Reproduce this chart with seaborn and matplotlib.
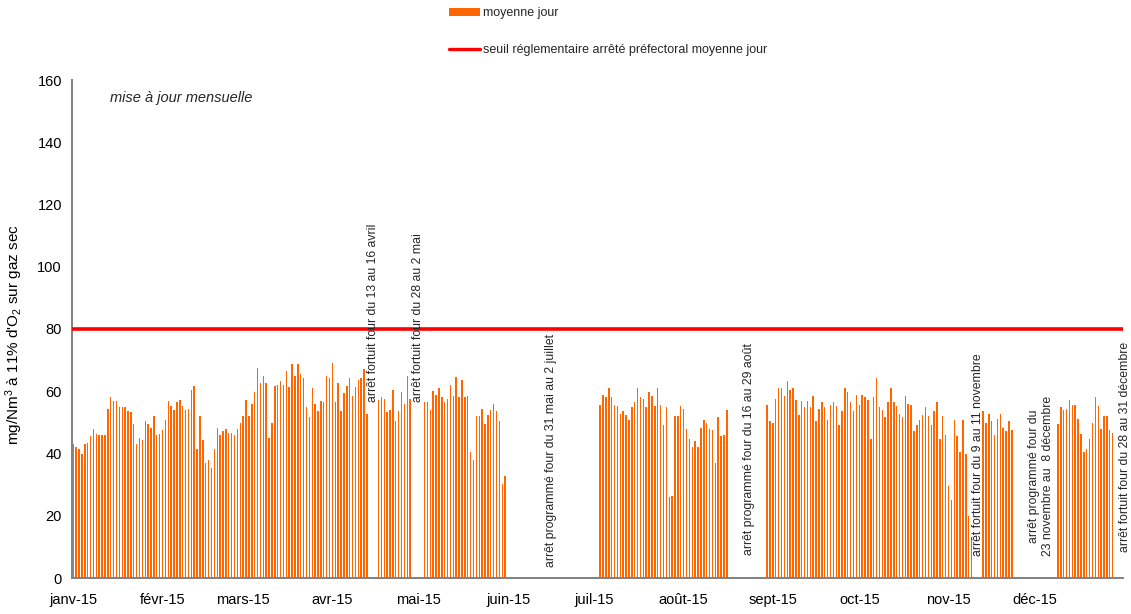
import numpy as np
import pandas as pd
import matplotlib
matplotlib.use("Agg")
import matplotlib.pyplot as plt
import seaborn as sns
from matplotlib.patches import Patch
from matplotlib.lines import Line2D

nan = np.nan

# Daily average concentration (mg/Nm3 at 11% O2, dry gas), one list per month.
# NaN marks days with the furnace stopped (no daily average).
jan = [42.9, 42.2, 41.6, 39.7, 42.9, 43.5, 45.5, 48.0, 46.4, 46.1, 46.1, 46.1,
       54.4, 58.0, 57.0, 57.0, 54.8, 54.8, 54.8, 53.5, 53.2, 49.6, 42.9, 45.1,
       44.2, 50.6, 49.6, 48.3, 51.9, 46.1, 46.4]
feb = [47.4, 50.9, 57.0, 55.4, 54.1, 56.4, 57.3, 55.4, 54.1, 54.4, 60.5, 61.8,
       41.6, 51.9, 44.2, 36.8, 37.8, 35.2, 41.6, 48.3, 45.8, 47.1, 48.0, 46.7,
       46.7, 46.1, 48.0, 49.9]
mar = [52.2, 57.3, 52.2, 56.0, 59.9, 67.6, 62.8, 65.0, 62.5, 45.1, 49.9, 61.8,
       62.1, 63.4, 62.1, 66.6, 61.5, 68.9, 65.0, 68.9, 65.7, 64.1, 55.1, 51.6,
       61.2, 56.0, 53.8, 57.0, 56.7, 65.0, 64.1]
apr = [69.2, 56.7, 62.8, 53.8, 59.3, 61.8, 64.1, 58.6, 61.5, 63.7, 64.1, 67.0,
       52.8, nan, nan, nan, 57.3, 58.3, 57.6, 53.2, 54.1, 60.5, 50.3, 53.8,
       59.6, 56.0, 65.0, 57.6, nan, nan]
may = [nan, nan, 56.4, 56.7, 54.1, 60.2, 58.9, 60.9, 58.3, 56.4, 57.6, 62.1,
       58.6, 64.7, 58.3, 63.7, 58.0, 58.6, 40.6, 37.8, 52.2, 52.2, 54.4, 49.6,
       52.5, 54.1, 56.0, 53.8, 50.6, 30.1, 32.9]
jun = [nan] * 30
jul = [nan, nan, 55.7, 58.9, 58.3, 60.9, 58.3, 55.7, 55.4, 52.8, 53.8, 52.5,
       50.9, 54.8, 56.4, 60.9, 58.3, 57.6, 55.1, 59.6, 58.6, 55.4, 60.9, 55.7,
       49.0, 55.1, 25.9, 26.5, 51.9, 52.2, 55.4]
aug = [54.4, 48.0, 44.5, 42.2, 43.9, 42.2, 48.3, 50.9, 49.9, 48.0, 47.4, 37.1,
       51.6, 45.5, 45.8, 54.1, nan, nan, nan, nan, nan, nan, nan, nan,
       nan, nan, nan, nan, nan, 55.7, 50.3]
sep = [49.9, 57.6, 60.9, 60.9, 58.6, 63.4, 60.5, 60.9, 57.3, 52.5, 57.0, 54.8,
       57.0, 55.1, 58.6, 50.6, 54.4, 56.4, 55.1, 50.9, 55.7, 56.7, 55.4, 49.0,
       53.8, 60.9, 59.6, 56.4, 53.5, 58.9]
oct_ = [55.7, 58.9, 58.0, 57.3, 44.5, 58.3, 64.4, 55.1, 54.1, 51.6, 56.4, 61.2,
        56.7, 55.4, 52.8, 51.6, 58.6, 56.0, 55.7, 47.1, 49.0, 50.9, 52.5, 54.8,
        52.2, 49.3, 53.8, 56.7, 44.8, 51.9, 46.1]
nov = [29.4, 24.9, 50.9, 45.5, 40.6, 50.9, 39.7, 19.8, 13.0, nan, nan, nan,
       53.5, 49.9, 52.8, 50.6, 45.8, 51.2, 52.8, 48.3, 47.1, 50.6, 47.7, nan,
       nan, nan, nan, nan, nan, nan]
dec = [nan, nan, nan, nan, nan, nan, nan, nan, 49.6, 55.1, 54.1, 54.4,
       57.3, 55.7, 55.7, 51.2, 46.4, 40.6, 41.6, 44.5, 49.9, 58.3, 55.4, 48.0,
       51.9, 52.2, 47.7, 46.7, nan, nan, nan]

threshold = 80
month_labels = ["janv-15", "févr-15", "mars-15", "avr-15", "mai-15", "juin-15",
                "juil-15", "août-15", "sept-15", "oct-15", "nov-15", "déc-15"]
stop_notes = [
    "arrêt fortuit four du 13 au 16 avril",
    "arrêt fortuit four du 28 au 2 mai",
    "arrêt programmé four du 31 mai au 2 juillet",
    "arrêt programmé four du 16 au 29 août",
    "arrêt fortuit four du 9 au 11 novembre",
    "arrêt programmé four du\n23 novembre au  8 décembre",
    "arrêt fortuit four du 28 au 31 décembre",
]

sns.set_theme(style="white")
plt.rcParams["font.family"] = ["Liberation Sans", "DejaVu Sans"]
plt.rcParams["mathtext.fontset"] = "custom"
plt.rcParams["mathtext.rm"] = "Liberation Sans"
plt.rcParams["mathtext.it"] = "Liberation Sans:italic"

months = [jan, feb, mar, apr, may, jun, jul, aug, sep, oct_, nov, dec]
values = np.concatenate([np.asarray(m, dtype=float) for m in months])
month_starts = np.concatenate([[0], np.cumsum([len(m) for m in months])[:-1]])
df = pd.DataFrame({"day": np.arange(len(values)), "value": values}).dropna()

W, H = 1131, 614
fig = plt.figure(figsize=(W / 100, H / 100), dpi=100)
ax = fig.add_axes([71.7 / W, 36 / H, 1051 / W, 498 / H])

bar_color = "#FF6600"
line_color = "#FF0000"

sns.barplot(data=df, x="day", y="value", native_scale=True, color=bar_color,
            saturation=1, width=0.5, errorbar=None, linewidth=0, ax=ax)
ax.axhline(threshold, color=line_color, lw=2.6, zorder=3)

ax.set_xlim(-0.55, len(values) - 0.5)
ax.set_ylim(0, 160)
ax.set_yticks(np.arange(0, 161, 20))
ax.set_xticks(month_starts)
ax.set_xticklabels(month_labels)
ax.tick_params(axis="x", length=0, pad=11, labelsize=10.5, colors="black")
ax.tick_params(axis="y", length=4, width=1, direction="out", pad=3,
               labelsize=10.5, colors="black")
ax.set_xlabel("")
ax.set_ylabel(r"mg/Nm$^3$ à 11% d'O$_2$ sur gaz sec", fontsize=11, color="black")
ax.yaxis.set_label_coords(-0.0445, 0.488)

for side in ["top", "right"]:
    ax.spines[side].set_visible(False)
for side in ["left", "bottom"]:
    ax.spines[side].set_color("#808080")
    ax.spines[side].set_linewidth(1.4)

ax.text(0.036, 0.963, "mise à jour mensuelle", transform=ax.transAxes,
        fontsize=10.5, style="italic", ha="left", va="center")

# Furnace stop notes, written vertically above the gaps
note_pos = [(104.1, 56.4), (119.7, 56.4), (165.9, 3.5), (234.8, 7.3),
            (314.1, 7.1), (336.0, 7.1), (365.2, 8.3)]
for text, (xd, yd) in zip(stop_notes, note_pos):
    ax.text(xd, yd, text, rotation=90, ha="center", va="bottom",
            multialignment="center", fontsize=8.8, clip_on=False,
            linespacing=1.25)

handles = [Patch(facecolor=bar_color, edgecolor="none"),
           Line2D([0], [0], color=line_color, lw=2.4)]
fig.legend(handles, ["moyenne jour",
                     "seuil réglementaire arrêté préfectoral moyenne jour"],
           loc="upper left", bbox_to_anchor=(449 / W, 1 - 7 / H),
           frameon=False, fontsize=9, borderpad=0, borderaxespad=0,
           handlelength=2.45, handleheight=0.6, handletextpad=0.25,
           labelspacing=2.0)

fig.savefig("out.png", dpi=100)
